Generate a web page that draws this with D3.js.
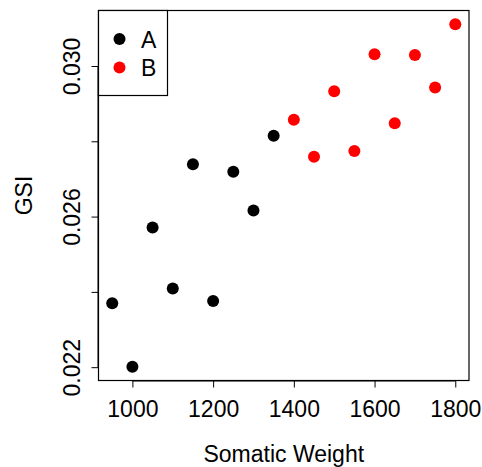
<!DOCTYPE html>
<html>
<head>
<meta charset="utf-8">
<script src="https://cdn.jsdelivr.net/npm/d3@7"></script>
<style>
  html, body { margin: 0; padding: 0; background: #fff; }
  svg { display: block; }
  text { font-family: "Liberation Sans", Arial, Helvetica, sans-serif; fill: #000; }
</style>
</head>
<body>
<svg id="chart" width="482" height="467"></svg>
<script>
// Somatic weight vs. GSI for two groups
const groupA_weight = [950, 1000, 1050, 1100, 1150, 1200, 1250, 1300, 1350];
const groupA_gsi    = [0.02370, 0.02201, 0.02571, 0.02409, 0.02739, 0.02376, 0.02719, 0.02616, 0.02815];
const groupB_weight = [1400, 1450, 1500, 1550, 1600, 1650, 1700, 1750, 1800];
const groupB_gsi    = [0.02857, 0.02759, 0.02933, 0.02774, 0.03031, 0.02848, 0.03029, 0.02943, 0.03111];
const groupNames    = ["A", "B"];
const groupColors   = ["#000000", "#ff0000"];
const xTicks = [1000, 1200, 1400, 1600, 1800];
const yTicks = [0.022, 0.024, 0.026, 0.028, 0.030];
const yTickLabels = ["0.022", "", "0.026", "", "0.030"];

const points = [
  ...groupA_weight.map((w, i) => ({ x: w, y: groupA_gsi[i], g: 0 })),
  ...groupB_weight.map((w, i) => ({ x: w, y: groupB_gsi[i], g: 1 }))
];

// extend data range by 4% on each side (R-style axis ranges)
function padded(ext) {
  const d = (ext[1] - ext[0]) * 0.04;
  return [ext[0] - d, ext[1] + d];
}

const box = { left: 98.5, right: 469, top: 10.5, bottom: 380.5 };
const svg = d3.select("#chart");

const x = d3.scaleLinear()
  .domain(padded(d3.extent(points, d => d.x)))
  .range([box.left, box.right]);
const y = d3.scaleLinear()
  .domain(padded(d3.extent(points, d => d.y)))
  .range([box.bottom, box.top]);

const FS = 23;

// x axis
const xAxis = svg.append("g")
  .attr("transform", `translate(0,${box.bottom})`)
  .call(d3.axisBottom(x).tickValues(xTicks).tickSize(7).tickFormat(d3.format("d")));
xAxis.select(".domain").attr("d", `M${x(xTicks[0])},0.5H${x(xTicks[xTicks.length - 1])}`).attr("stroke", "#000");
xAxis.selectAll(".tick line").attr("stroke", "#000");
xAxis.selectAll(".tick text")
  .attr("y", 36).attr("dy", null)
  .style("font-size", FS + "px");

// y axis
const yAxis = svg.append("g")
  .attr("transform", `translate(${box.left},0)`)
  .call(d3.axisLeft(y).tickValues(yTicks).tickSize(7).tickFormat((d, i) => yTickLabels[i]));
yAxis.select(".domain").attr("d", `M-0.5,${y(yTicks[0])}V${y(yTicks[yTicks.length - 1])}`).attr("stroke", "#000");
yAxis.selectAll(".tick line").attr("stroke", "#000");
yAxis.selectAll(".tick text")
  .attr("x", null).attr("dy", null)
  .attr("text-anchor", "middle")
  .attr("transform", "translate(-19,0) rotate(-90)")
  .style("font-size", FS + "px");

// plot frame
svg.append("rect")
  .attr("x", box.left).attr("y", box.top)
  .attr("width", box.right - box.left).attr("height", box.bottom - box.top)
  .attr("fill", "none").attr("stroke", "#000").attr("stroke-width", 1.2);

// points
svg.append("g").selectAll("circle")
  .data(points)
  .join("circle")
  .attr("cx", d => x(d.x))
  .attr("cy", d => y(d.y))
  .attr("r", 6)
  .attr("fill", d => groupColors[d.g]);

// axis titles
svg.append("text")
  .attr("x", (box.left + box.right) / 2).attr("y", 462)
  .attr("text-anchor", "middle")
  .style("font-size", FS + "px")
  .text("Somatic Weight");
svg.append("text")
  .attr("transform", `translate(32,${(box.top + box.bottom) / 2}) rotate(-90)`)
  .attr("text-anchor", "middle")
  .style("font-size", FS + "px")
  .text("GSI");

// legend
const legend = svg.append("g");
legend.append("rect")
  .attr("x", box.left).attr("y", box.top)
  .attr("width", 69).attr("height", 85)
  .attr("fill", "#fff").attr("stroke", "#000").attr("stroke-width", 1.2);
groupNames.forEach((name, i) => {
  legend.append("circle")
    .attr("cx", 119.5).attr("cy", 39 + i * 28.5)
    .attr("r", 6).attr("fill", groupColors[i]);
  legend.append("text")
    .attr("x", 141).attr("y", 47.5 + i * 28.5)
    .style("font-size", FS + "px")
    .text(name);
});
</script>
</body>
</html>
